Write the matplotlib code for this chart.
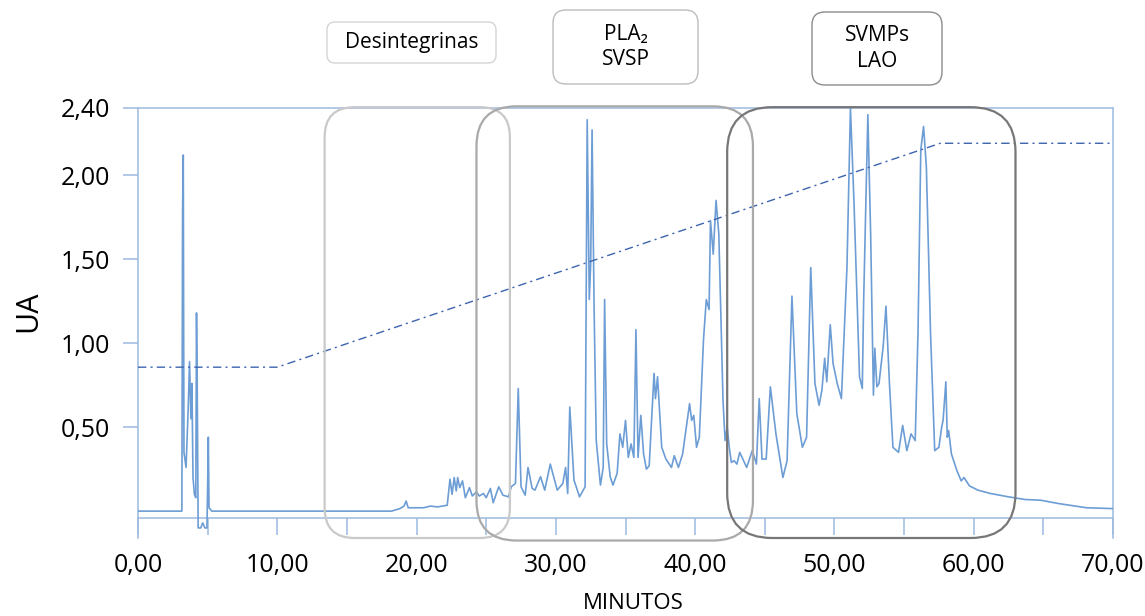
import numpy as np
import matplotlib
matplotlib.use("Agg")
import matplotlib.pyplot as plt
from matplotlib.patches import FancyBboxPatch
from matplotlib.ticker import FuncFormatter, MultipleLocator

plt.rcParams['font.family'] = ['Open Sans', 'DejaVu Sans']

# cromatograma (tiempo en minutos, absorbancia UA)
tiempo = [0.0, 1.7, 3.15, 3.2, 3.25, 3.3, 3.45, 3.6, 3.7, 3.8, 3.87, 3.95, 4.05, 4.15, 4.2, 4.25,
          4.32, 4.5, 4.65, 4.8, 4.95, 5.0, 5.05, 5.1, 5.3, 8.5, 18.2, 18.8, 19.1, 19.25, 19.4,
          20.5, 21.0, 21.5, 22.2, 22.4, 22.55, 22.7, 22.85, 22.95, 23.1, 23.3, 23.5, 23.8, 24.0,
          24.3, 24.5, 24.8, 25.0, 25.3, 25.5, 25.9, 26.2, 26.6, 26.8, 27.1, 27.3, 27.5, 27.8,
          28.0, 28.3, 28.5, 28.9, 29.2, 29.6, 30.1, 30.5, 30.7, 30.85, 31.0, 31.3, 31.7, 32.1,
          32.25, 32.4, 32.5, 32.6, 32.75, 32.9, 33.2, 33.4, 33.5, 33.65, 33.9, 34.1, 34.4, 34.6,
          34.8, 35.0, 35.2, 35.4, 35.6, 35.75, 35.9, 36.1, 36.3, 36.5, 36.7, 37.05, 37.15, 37.3,
          37.6, 37.9, 38.3, 38.5, 38.8, 39.1, 39.6, 39.75, 39.9, 40.1, 40.3, 40.6, 40.8, 41.0,
          41.1, 41.3, 41.5, 41.7, 42.0, 42.15, 42.3, 42.45, 42.6, 42.8, 43.0, 43.2, 43.7, 44.1,
          44.4, 44.6, 44.8, 45.1, 45.4, 45.8, 46.3, 46.6, 46.95, 47.3, 47.7, 48.0, 48.3, 48.6,
          48.9, 49.1, 49.3, 49.45, 49.7, 49.9, 50.2, 50.5, 50.9, 51.15, 51.4, 51.8, 52.0, 52.1,
          52.4, 52.6, 52.8, 52.9, 53.05, 53.2, 53.5, 53.7, 53.95, 54.2, 54.6, 54.9, 55.2, 55.5,
          55.8, 56.0, 56.2, 56.4, 56.6, 56.9, 57.2, 57.5, 57.7, 57.8, 58.0, 58.1, 58.2, 58.4,
          58.8, 59.1, 59.3, 59.7, 60.3, 61.2, 62.5, 63.7, 64.8, 66.1, 68.1, 69.8, 70.0]
absorbancia = [0.0, 0.0, 0.0, 1.78, 2.12, 0.35, 0.26, 0.6, 0.89, 0.55, 0.76, 0.2, 0.1, 0.08, 1.18, 0.76,
               -0.10, -0.10, -0.07, -0.10, -0.10, 0.15, 0.44, 0.02, 0.0, 0.0, 0.0, 0.015, 0.03, 0.06, 0.02,
               0.02, 0.03, 0.025, 0.035, 0.19, 0.1, 0.2, 0.12, 0.2, 0.14, 0.18, 0.08, 0.14, 0.09,
               0.115, 0.09, 0.105, 0.08, 0.135, 0.05, 0.145, 0.095, 0.085, 0.145, 0.165, 0.73, 0.145, 0.095,
               0.26, 0.135, 0.125, 0.205, 0.125, 0.28, 0.125, 0.165, 0.26, 0.105, 0.62, 0.185, 0.085, 0.145,
               2.33, 1.26, 1.47, 2.27, 1.18, 0.42, 0.155, 0.26, 1.26, 0.40, 0.205, 0.155, 0.225, 0.46,
               0.38, 0.54, 0.32, 0.40, 0.32, 1.08, 0.32, 0.57, 0.34, 0.25, 0.27, 0.82, 0.67, 0.80,
               0.38, 0.31, 0.26, 0.33, 0.26, 0.34, 0.64, 0.54, 0.57, 0.38, 0.44, 1.02, 1.26, 1.20,
               1.73, 1.53, 1.85, 1.65, 0.66, 0.42, 0.50, 0.38, 0.29, 0.30, 0.28, 0.35, 0.26, 0.36,
               0.28, 0.67, 0.31, 0.31, 0.74, 0.46, 0.20, 0.30, 1.28, 0.58, 0.38, 0.44, 1.45, 0.76,
               0.63, 0.72, 0.91, 0.77, 1.11, 0.88, 0.76, 0.67, 1.45, 2.40, 1.85, 0.80, 0.73, 1.26,
               2.36, 1.65, 0.69, 0.97, 0.74, 0.76, 0.98, 1.22, 0.76, 0.38, 0.35, 0.51, 0.36, 0.46,
               0.42, 1.06, 2.15, 2.29, 2.05, 1.06, 0.36, 0.38, 0.50, 0.54, 0.77, 0.44, 0.48, 0.34,
               0.24, 0.18, 0.20, 0.15, 0.125, 0.105, 0.085, 0.069, 0.065, 0.045, 0.02, 0.016, 0.015]

# gradiente
grad_t = [0, 10, 57.6, 70]
grad_v = [0.857, 0.857, 2.19, 2.19]

y_ticks = [0.5, 1.0, 1.5, 2.0, 2.4]

W, H = 1145, 616
fig = plt.figure(figsize=(W / 100, H / 100), dpi=100)
ax = fig.add_axes([138 / W, 78 / H, 975 / W, 430 / H])

eje = '#9dbbe0'
ax.plot(tiempo, absorbancia, color='#6d9dd5', lw=1.2, zorder=3)
ax.plot(grad_t, grad_v, color='#3d64ae', lw=1.0, linestyle=(0, (6, 3, 1.5, 3)), zorder=3)

ax.set_xlim(0, 70)
ax.set_ylim(-0.16, 2.40)

for s in ax.spines.values():
    s.set_color(eje)
    s.set_linewidth(1.1)
ax.spines['bottom'].set_position(('data', -0.04))

ax.xaxis.set_major_locator(MultipleLocator(10))
ax.xaxis.set_minor_locator(MultipleLocator(5))
ax.set_yticks(y_ticks)
fmt = FuncFormatter(lambda v, p: f"{v:.2f}".replace('.', ','))
ax.xaxis.set_major_formatter(fmt)
ax.yaxis.set_major_formatter(fmt)
ax.tick_params(axis='x', which='both', direction='out', length=12.5, width=1.1, color=eje,
               labelsize=18, pad=13)
ax.tick_params(axis='y', direction='out', length=11, width=1.1, color=eje, labelsize=18, pad=9)

ax.set_ylabel('UA', fontsize=22)
ax.yaxis.set_label_coords(-0.097, 0.528)
ax.set_xlabel('MINUTOS', fontsize=16)
ax.xaxis.set_label_coords(0.508, -0.128)

# cajas de las regiones (en minutos / UA)
bb = ax.get_position()
sx = bb.width * W / 70
sy = bb.height * H / 2.56
regiones = [(13.4, 26.7, -0.16, 2.405, 30, '#c9c9c9'),
            (24.3, 44.15, -0.175, 2.41, 40, '#a9a9a9'),
            (42.3, 63.0, -0.16, 2.405, 45, '#777777')]
for x0, x1, y0, y1, r, c in regiones:
    ax.add_patch(FancyBboxPatch((x0, y0), x1 - x0, y1 - y0,
                                boxstyle=f"round,pad=0,rounding_size={r / sx}",
                                mutation_aspect=sx / sy, fill=False, ec=c, lw=1.6,
                                clip_on=False, zorder=4))

# etiquetas superiores
etiquetas = [('Desintegrinas', 327, 22, 496, 63, 8, '#d4d4d4'),
             ('PLA₂\nSVSP', 553, 10, 698, 84, 13, '#bcbcbc'),
             ('SVMPs\nLAO', 812, 12, 942, 85, 13, '#8c8c8c')]
for txt, x0, y0, x1, y1, r, c in etiquetas:
    fig.add_artist(FancyBboxPatch((x0 / W, 1 - y1 / H), (x1 - x0) / W, (y1 - y0) / H,
                                  boxstyle=f"round,pad=0,rounding_size={r / W}",
                                  mutation_aspect=W / H, fill=False, ec=c, lw=1.0,
                                  transform=fig.transFigure))
    fig.text((x0 + x1) / 2 / W, 1 - (y0 + y1) / 2 / H, txt, ha='center', va='center',
             fontsize=15, linespacing=1.3)

fig.savefig('out.png', dpi=100)
